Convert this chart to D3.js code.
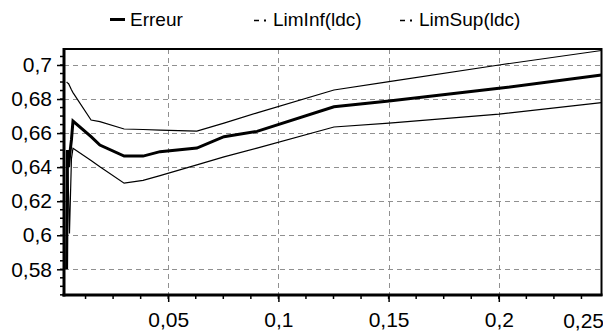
<!DOCTYPE html>
<html>
<head>
<meta charset="utf-8">
<script src="https://cdn.jsdelivr.net/npm/d3@7"></script>
<style>
  html, body { margin: 0; padding: 0; background: #fff; }
  svg { display: block; }
  text { font-family: "Liberation Sans", Arial, sans-serif; fill: #000; }
</style>
</head>
<body>
<svg id="chart" width="603" height="336"></svg>
<script>
// Parameter values (x) shared by the three series
const xValues = [0.0039, 0.0043, 0.0048, 0.0052, 0.0061, 0.0068, 0.015, 0.019, 0.030,
                 0.0386, 0.0463, 0.063, 0.0753, 0.0903, 0.1252, 0.1502, 0.2001, 0.2466];
// Error curve and its confidence bounds
const erreur = [0.580, 0.650, 0.640, 0.646, 0.656, 0.6671, 0.6579, 0.653, 0.6465, 0.6465,
                0.6491, 0.6512, 0.6579, 0.661, 0.6755, 0.6789, 0.6863, 0.6941];
const limInf = [0.640, 0.645, 0.623, 0.601, 0.645, 0.6511, 0.6439, 0.6402, 0.6306, 0.6322,
                0.635, 0.6413, 0.646, 0.6512, 0.6636, 0.6659, 0.6712, 0.6779];
const limSup = [0.690, 0.6895, 0.689, 0.688, 0.6855, 0.6838, 0.6677, 0.6667, 0.6624, 0.6621,
                0.6618, 0.6612, 0.6659, 0.6719, 0.6853, 0.6902, 0.700, 0.7085];

const yTicks = [0.58, 0.60, 0.62, 0.64, 0.66, 0.68, 0.70];
const xTicks = [0.05, 0.10, 0.15, 0.20, 0.25];
const seriesNames = ["Erreur", "LimInf(ldc)", "LimSup(ldc)"];

const fmt = v => String(+v.toFixed(3)).replace(".", ",");

const svg = d3.select("#chart");
const plot = { left: 64, right: 601.5, top: 49, bottom: 295 };

const x = d3.scaleLinear().domain([0, 0.05]).range([58, 168.2]);
const y = d3.scaleLinear().domain([0.58, 0.70]).range([269.3, 65]);
const xMin = x.invert(plot.left), xMax = x.invert(plot.right);
const yMin = y.invert(plot.bottom), yMax = y.invert(plot.top);

// Dashed grid
const grid = svg.append("g").attr("stroke", "#909090").attr("stroke-width", 1)
  .attr("stroke-dasharray", "5,4").attr("shape-rendering", "crispEdges");
grid.selectAll("line.h").data(yTicks).join("line")
  .attr("x1", plot.left).attr("x2", plot.right)
  .attr("y1", d => Math.round(y(d)) + 0.5).attr("y2", d => Math.round(y(d)) + 0.5);
grid.selectAll("line.v").data(xTicks.filter(d => d < xMax)).join("line")
  .attr("y1", plot.top).attr("y2", plot.bottom)
  .attr("x1", d => Math.round(x(d)) + 0.5).attr("x2", d => Math.round(x(d)) + 0.5);

// Curves
svg.append("clipPath").attr("id", "clip").append("rect")
  .attr("x", plot.left).attr("y", plot.top)
  .attr("width", plot.right - plot.left).attr("height", plot.bottom - plot.top);

const line = vals => d3.line().x((d, i) => x(xValues[i])).y(d => y(d))(vals);
const curves = svg.append("g").attr("clip-path", "url(#clip)").attr("fill", "none")
  .attr("stroke", "#000").attr("stroke-linejoin", "miter");
curves.append("path").attr("d", line(limSup)).attr("stroke-width", 1.2);
curves.append("path").attr("d", line(limInf)).attr("stroke-width", 1.2);
curves.append("path").attr("d", line(erreur)).attr("stroke-width", 3);

// Frame
svg.append("rect").attr("x", plot.left).attr("y", plot.top)
  .attr("width", plot.right - plot.left).attr("height", plot.bottom - plot.top)
  .attr("fill", "none").attr("stroke", "#000").attr("stroke-width", 2);

// Y axis with minor ticks every 0.005
const yAxis = d3.axisLeft(y).tickValues(yTicks).tickFormat(fmt).tickSize(7).tickPadding(5);
const gy = svg.append("g").attr("transform", `translate(${plot.left},0)`).call(yAxis);
gy.select(".domain").remove();
gy.selectAll("text").style("font-size", "21px");
gy.selectAll(".tick line").attr("stroke-width", 1.5);
const yMinor = d3.range(0.565, 0.7095, 0.005).filter(v => v >= yMin && v <= yMax);
gy.selectAll("line.minor").data(yMinor).join("line").attr("class", "minor")
  .attr("x1", -4).attr("x2", 0).attr("y1", d => y(d)).attr("y2", d => y(d))
  .attr("stroke", "#000").attr("stroke-width", 1.5);
svg.append("line").attr("x1", plot.left).attr("x2", plot.left)
  .attr("y1", plot.top - 1).attr("y2", plot.bottom + 1.5)
  .attr("stroke", "#000").attr("stroke-width", 3);

// X axis with minor ticks every 0.0125
const xAxis = d3.axisBottom(x).tickValues(xTicks.filter(d => d < xMax)).tickFormat(fmt)
  .tickSize(7).tickPadding(10);
const gx = svg.append("g").attr("transform", `translate(0,${plot.bottom})`).call(xAxis);
gx.select(".domain").remove();
gx.selectAll("text").style("font-size", "21px");
gx.selectAll(".tick line").attr("stroke-width", 1.5);
const xMinor = d3.range(0.0125, 0.25, 0.0125).filter(v => v >= xMin && v <= xMax);
gx.selectAll("line.minor").data(xMinor).join("line").attr("class", "minor")
  .attr("y1", 0).attr("y2", 4).attr("x1", d => x(d)).attr("x2", d => x(d))
  .attr("stroke", "#000").attr("stroke-width", 1.5);
// Last label sits inside the window edge
gx.append("text").attr("x", 604).attr("y", 33).attr("text-anchor", "end")
  .style("font-size", "21px").text(fmt(0.25));
svg.append("line").attr("x1", plot.left - 1.5).attr("x2", plot.right + 1)
  .attr("y1", plot.bottom).attr("y2", plot.bottom)
  .attr("stroke", "#000").attr("stroke-width", 3);

// Legend
const legend = svg.append("g").style("font-size", "19px");
legend.append("line").attr("x1", 110).attr("x2", 125).attr("y1", 19.5).attr("y2", 19.5)
  .attr("stroke", "#000").attr("stroke-width", 3);
legend.append("text").attr("x", 130).attr("y", 26).text(seriesNames[0]);
[[254, seriesNames[1]], [400, seriesNames[2]]].forEach(([lx, name]) => {
  legend.append("line").attr("x1", lx).attr("x2", lx + 5).attr("y1", 20.5).attr("y2", 20.5)
    .attr("stroke", "#000").attr("stroke-width", 1.5);
  legend.append("rect").attr("x", lx + 10).attr("y", 19.5).attr("width", 2).attr("height", 2)
    .attr("fill", "#000");
  legend.append("text").attr("x", lx + 19).attr("y", 26).text(name);
});
</script>
</body>
</html>
